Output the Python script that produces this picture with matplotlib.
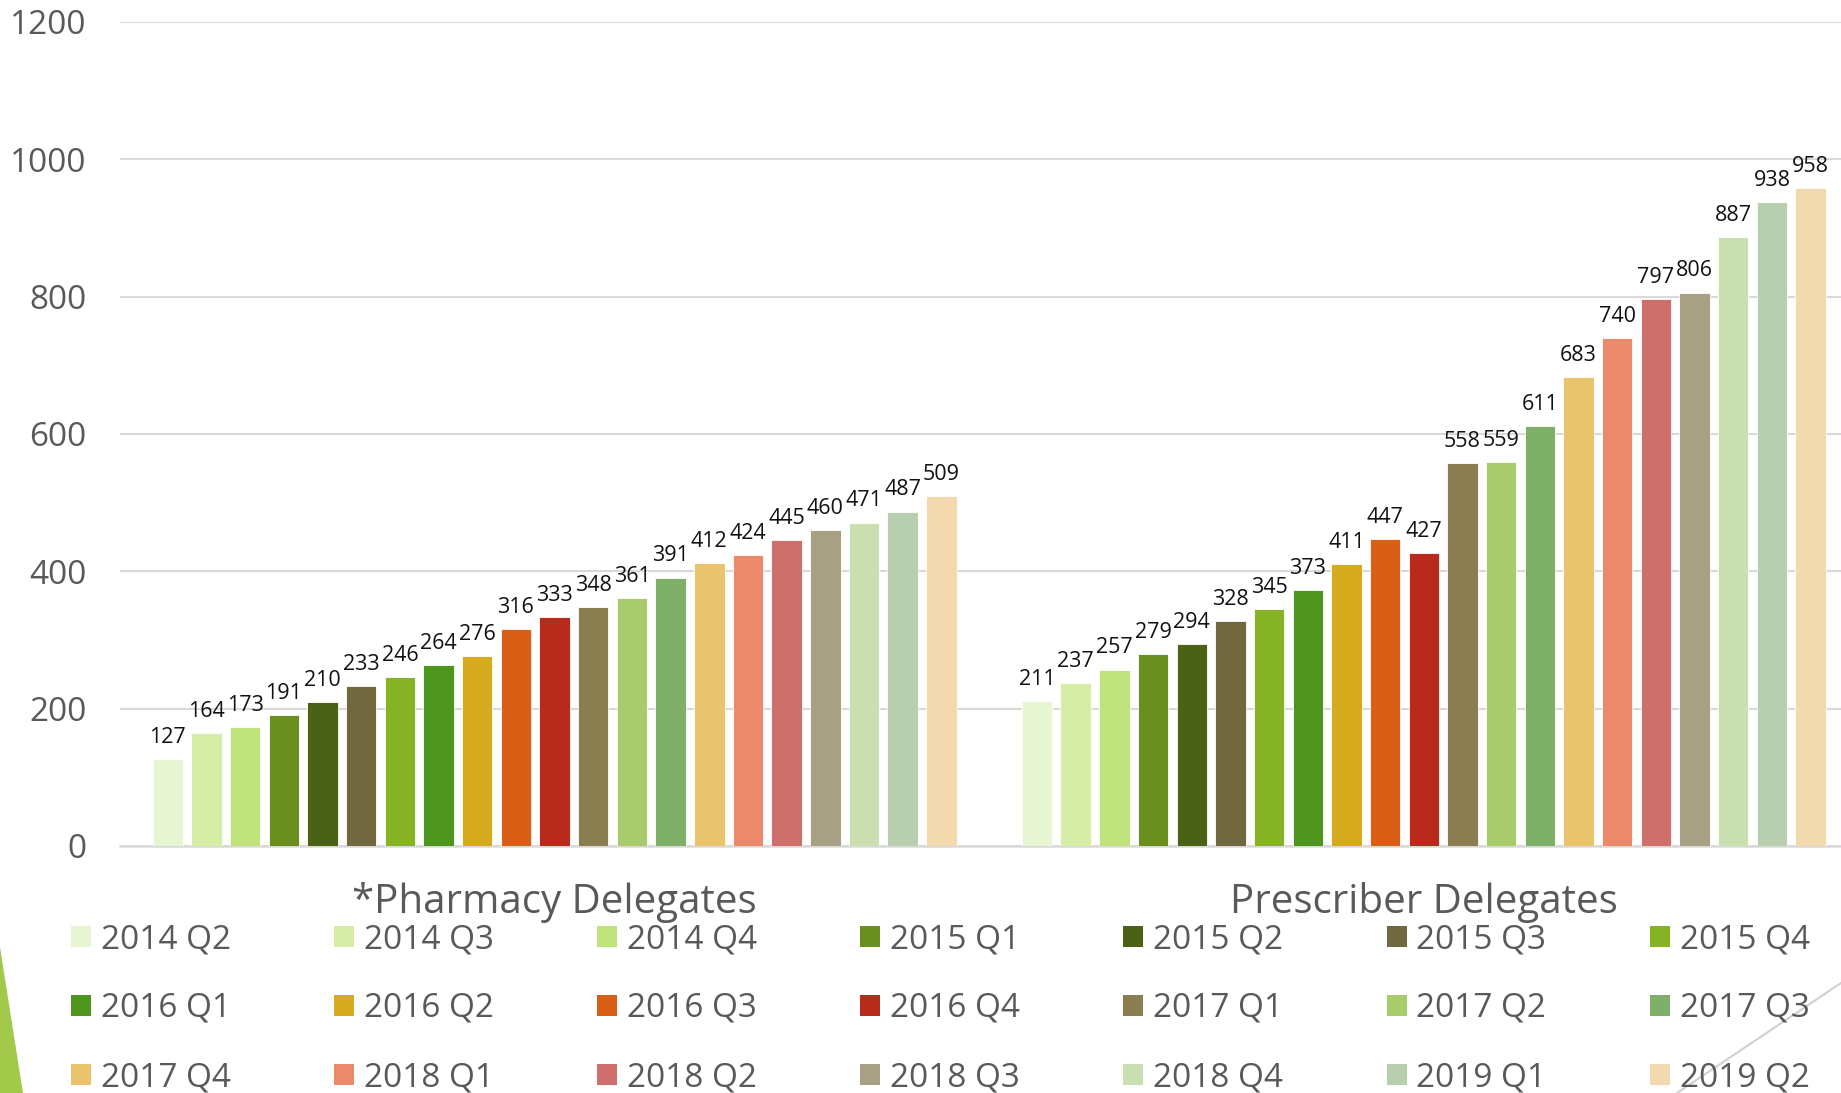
import matplotlib
matplotlib.use("Agg")
import matplotlib.pyplot as plt
from matplotlib.patches import Patch, Polygon
from matplotlib.lines import Line2D
import numpy as np

# ====================================================
# data
groups = ["*Pharmacy Delegates", "Prescriber Delegates"]
quarters = ["2014 Q2", "2014 Q3", "2014 Q4", "2015 Q1", "2015 Q2", "2015 Q3", "2015 Q4",
            "2016 Q1", "2016 Q2", "2016 Q3", "2016 Q4", "2017 Q1", "2017 Q2", "2017 Q3",
            "2017 Q4", "2018 Q1", "2018 Q2", "2018 Q3", "2018 Q4", "2019 Q1", "2019 Q2"]
pharmacy = [127, 164, 173, 191, 210, 233, 246, 264, 276, 316, 333,
            348, 361, 391, 412, 424, 445, 460, 471, 487, 509]
prescriber = [211, 237, 257, 279, 294, 328, 345, 373, 411, 447, 427,
              558, 559, 611, 683, 740, 797, 806, 887, 938, 958]
colors = ["#E8F5D3", "#D5EDA4", "#BFE27A", "#6A8F1F", "#4A6116", "#726840", "#86B324",
          "#4E951E", "#D6AC1E", "#D95F17", "#B82A1C", "#8A7D4F", "#A8CB6C", "#7FB06A",
          "#EAC46D", "#EB8A6B", "#CF6F6B", "#A8A082", "#C9DFB0", "#B8CFAF", "#F2DAAE"]
yticks = [0, 200, 400, 600, 800, 1000, 1200]

GREY = "#595959"
GRID = "#D9D9D9"

plt.rcParams['font.family'] = ['Open Sans', 'DejaVu Sans']

# ====================================================
fig = plt.figure(figsize=(18.41, 10.93), dpi=100)
ax = fig.add_axes([120 / 1841, 247 / 1093, 1 - 120 / 1841, 824 / 1093])

n = len(quarters)
pitch = 0.0445
width = 0.035
x0 = np.arange(len(groups))
handles = []
for i in range(n):
	xs = x0 + (i - (n - 1) / 2) * pitch
	vals = [pharmacy[i], prescriber[i]]
	ax.bar(xs, vals, width, color=colors[i], edgecolor="white", linewidth=0.6, zorder=3)
	handles.append(Patch(facecolor=colors[i], edgecolor="none"))
	for xx, v in zip(xs, vals):
		ax.annotate(str(v), (xx, v), xytext=(0, 8), textcoords="offset points",
		            ha="center", va="bottom", fontsize=15.5, color="#111111", zorder=4)

ax.set_xlim(-0.5, 1.48)
ax.set_ylim(0, 1200)
ax.set_yticks(yticks)
ax.set_yticklabels([str(t) for t in yticks], fontsize=24, color=GREY)
ax.set_xticks(x0)
ax.set_xticklabels(groups, fontsize=29, color=GREY)
ax.tick_params(axis="y", length=0, pad=24)
ax.tick_params(axis="x", length=0, pad=26)
ax.grid(axis="y", color=GRID, linewidth=1.5, zorder=0)
for s in ["top", "right", "left"]:
	ax.spines[s].set_visible(False)
ax.spines["bottom"].set_color(GRID)
ax.spines["bottom"].set_linewidth(1.8)
ax.spines["bottom"].set_zorder(2)

# legend laid out row by row (matplotlib fills columns first)
ncol, nrow = 7, 3
order = [r * ncol + c for c in range(ncol) for r in range(nrow)]
fig.legend([handles[k] for k in order], [quarters[k] for k in order],
           ncol=ncol, loc="upper left", bbox_to_anchor=(71 / 1841, 1 - 923 / 1093),
           frameon=False, fontsize=24, labelcolor=GREY,
           handlelength=0.6, handleheight=0.6, handletextpad=0.3,
           columnspacing=3.09, labelspacing=1.08, borderpad=0, borderaxespad=0)

# slide decorations at the bottom corners
fig.patches.append(Polygon([(0, 1 - 947 / 1093), (23 / 1841, 0), (0, 0)], closed=True,
                           transform=fig.transFigure, facecolor="#A3C94A", edgecolor="none"))
fig.lines.append(Line2D([1.0, 1677 / 1841], [1 - 983 / 1093, 0], transform=fig.transFigure,
                        color="#D0D0D0", linewidth=1.5))

fig.savefig("out.png", dpi=100)
